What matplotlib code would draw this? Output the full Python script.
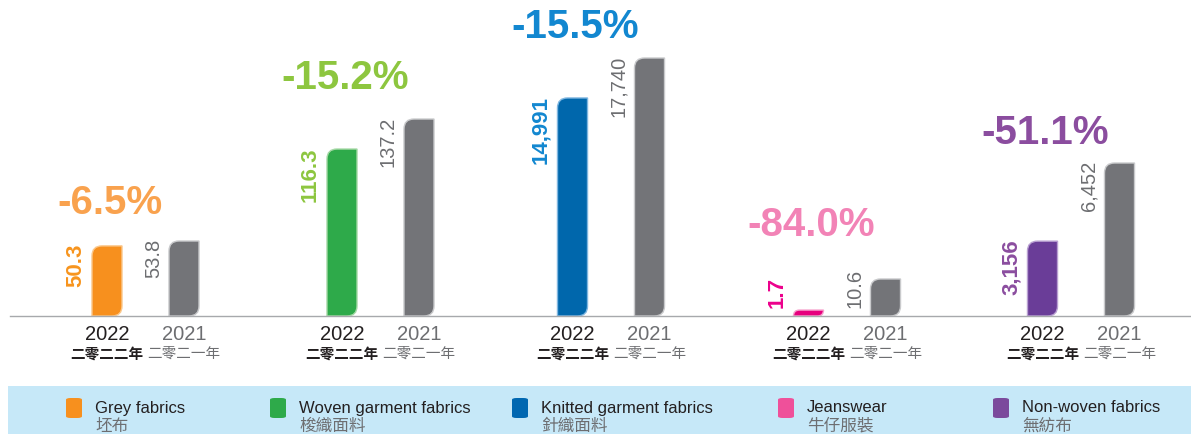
import matplotlib
matplotlib.use("Agg")
import matplotlib.pyplot as plt
from matplotlib.path import Path
from matplotlib.patches import PathPatch, FancyBboxPatch
from matplotlib.transforms import IdentityTransform
from matplotlib.lines import Line2D

# ---------------- data ----------------
categories_en = ["Grey fabrics", "Woven garment fabrics", "Knitted garment fabrics", "Jeanswear", "Non-woven fabrics"]
categories_zh = ["坯布", "梭織面料", "針織面料", "牛仔服裝", "無紡布"]
values_2022 = [50.3, 116.3, 14991, 1.7, 3156]
values_2021 = [53.8, 137.2, 17740, 10.6, 6452]
labels_2022 = ["50.3", "116.3", "14,991", "1.7", "3,156"]
labels_2021 = ["53.8", "137.2", "17,740", "10.6", "6,452"]
pct_labels = ["-6.5%", "-15.2%", "-15.5%", "-84.0%", "-51.1%"]
year_labels = ["2022", "2021"]
year_labels_zh = ["二零二二年", "二零二一年"]

# ---------------- style / layout ----------------
bar_colors = ["#F7901E", "#2EAA4A", "#0067AC", "#E6007E", "#6A3D98"]
bar_edges = ["#FBC98E", "#A6D9A6", "#7FB6E0", "#F6A0CC", "#B9A0D2"]
label_colors = ["#F7941D", "#8DC63F", "#1287D0", "#EC008C", "#8B4D9F"]
pct_colors = ["#F9A24E", "#8DC63F", "#1287D0", "#F283B6", "#8B4D9F"]
legend_colors = ["#F7901E", "#2EAA4A", "#0067B1", "#EF509A", "#7B4A9C"]
gray_bar = "#737478"
gray_edge = "#C9CACC"
gray_text = "#6D6E71"

W, H, DPI = 1191, 434, 100
base_px = 316            # baseline, pixels from top
ax_lefts = [30, 265, 495.5, 731.5, 965.5]
ax_width = 231
ymax = [226.7, 220.1, 21728, 90.5, 13326]   # per-group vertical scale
pct_gap = [38, 41, 31, 54, 30]               # px above tallest bar
legend_x = [66, 270, 512, 778, 993]

plt.rcParams['font.family'] = ['Liberation Sans', 'Noto Sans CJK TC', 'DejaVu Sans']

fig = plt.figure(figsize=(W / DPI, H / DPI), dpi=DPI)
fig.patch.set_facecolor("white")
PT = 72.0 / DPI   # points per pixel


def fx(px):
    return px / W


def fy(py_from_top):
    return 1 - py_from_top / H


def leaf_path(x0, y0, x1, y1, r):
    r = min(r, (y1 - y0) / 1.0, (x1 - x0) / 2)
    verts = [(x0, y0), (x1 - r, y0), (x1, y0), (x1, y0 + r), (x1, y1),
             (x0 + r, y1), (x0, y1), (x0, y1 - r), (x0, y0)]
    codes = [Path.MOVETO, Path.LINETO, Path.CURVE3, Path.CURVE3, Path.LINETO,
             Path.LINETO, Path.CURVE3, Path.CURVE3, Path.CLOSEPOLY]
    return Path(verts, codes)


axes = []
for g in range(5):
    ax = fig.add_axes([fx(ax_lefts[g]), fy(base_px), fx(ax_width), base_px / H])
    ax.set_xlim(-1, 2)
    ax.set_ylim(0, ymax[g])
    ax.axis("off")
    axes.append(ax)

# baseline
fig.add_artist(Line2D([fx(10), 1.0], [fy(base_px), fy(base_px)], color="#A7A9AC", lw=1.0))

value_texts = []
for g, ax in enumerate(axes):
    bars = ax.bar([0, 1], [values_2022[g], values_2021[g]], width=0.39,
                  color=[bar_colors[g], gray_bar])
    fills = [bar_colors[g], gray_bar]
    edges = [bar_edges[g], gray_edge]
    for i, b in enumerate(bars):
        b.set_visible(False)
        (x0, y0), (x1, y1) = ax.transData.transform([(b.get_x(), 0), (b.get_x() + b.get_width(), b.get_height())])
        p = PathPatch(leaf_path(x0, y0, x1, y1, 10), facecolor=fills[i], edgecolor=edges[i],
                      lw=1.0, transform=IdentityTransform(), clip_on=False)
        fig.add_artist(p)

    # value labels
    for i, (val, txt) in enumerate(zip([values_2022[g], values_2021[g]], [labels_2022[g], labels_2021[g]])):
        bx = i - 0.39 / 2
        if i == 0:
            kw = dict(color=label_colors[g], fontsize=16, fontweight="bold")
        else:
            kw = dict(color=gray_text, fontsize=14.5)
        t = ax.annotate(txt, (bx, val), xytext=(-6 * PT, 2 * PT), textcoords="offset points",
                        rotation=90, ha="right", va="top", annotation_clip=False, **kw)
        value_texts.append((ax, t, bx))

    # percentage
    top = max(values_2022[g], values_2021[g])
    ax.annotate(pct_labels[g], (0.04, top), xytext=(0, pct_gap[g] * PT), textcoords="offset points",
                ha="center", va="center", fontsize=29, fontweight="bold", color=pct_colors[g],
                annotation_clip=False)

    # year labels
    for i in range(2):
        c = "#231F20" if i == 0 else gray_text
        ax.annotate(year_labels[i], (i, 0), xytext=(0, -18 * PT), textcoords="offset points",
                    ha="center", va="center", fontsize=14.5, color=c, annotation_clip=False)
        ax.annotate(year_labels_zh[i], (i, 0), xytext=(0, -38 * PT), textcoords="offset points",
                    ha="center", va="center", fontsize=10.5, color=c,
                    fontweight="bold" if i == 0 else "normal",
                    family=["Noto Sans CJK TC", "DejaVu Sans"], annotation_clip=False)

# short bars: keep value labels clear of the baseline
fig.canvas.draw()
renderer = fig.canvas.get_renderer()
for ax, t, bx in value_texts:
    bb = t.get_window_extent(renderer)
    base_disp = ax.transData.transform((0, 0))[1]
    if bb.y0 < base_disp + 8:
        t.xy = (bx, 0)
        t.set_va("bottom")
        t.set_position((-6 * PT, 8 * PT))

# legend band
band = FancyBboxPatch((fx(8), 0), 1 - fx(8), fy(386), boxstyle="square,pad=0",
                      transform=fig.transFigure, facecolor="#C6E8F8", edgecolor="none")
fig.add_artist(band)
for k in range(5):
    sw = FancyBboxPatch((fx(legend_x[k]), fy(418)), fx(16), 20 / H,
                        boxstyle="round,pad=0,rounding_size=0.004", transform=fig.transFigure,
                        facecolor=legend_colors[k], edgecolor="none")
    fig.add_artist(sw)
    fig.text(fx(legend_x[k] + 29), fy(408), categories_en[k], fontsize=12, color="#231F20",
             ha="left", va="center")
    fig.text(fx(legend_x[k] + 29), fy(426), categories_zh[k], fontsize=12, color=gray_text,
             ha="left", va="center", family=["Noto Sans CJK TC", "DejaVu Sans"])

fig.savefig("out.png", dpi=DPI, facecolor="white")
